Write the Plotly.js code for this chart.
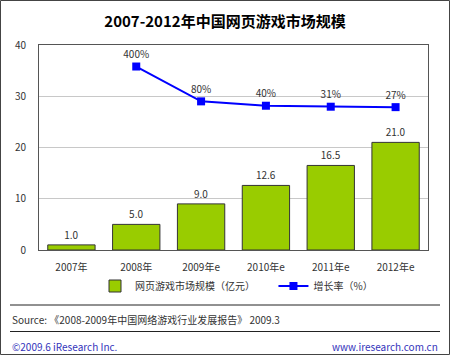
<!DOCTYPE html>
<html><head><meta charset="utf-8">
<script src="https://cdn.plot.ly/plotly-3.0.1.min.js"></script>
<style>html,body{margin:0;padding:0;background:#fff}#c{width:450px;height:355px}</style>
</head><body><div id="c"></div>
<script>
var categories = ['2007年','2008年','2009年e','2010年e','2011年e','2012年e'];
var marketSize = [1.0, 5.0, 9.0, 12.6, 16.5, 21.0];
var growthRate = [null, 400, 80, 40, 31, 27];
var growthLabels = ['', '400%', '80%', '40%', '31%', '27%'];
var yTicks = [0, 10, 20, 30, 40];

var W = 450, H = 355, ML = 39, MR = 22, MT = 45, MB = 105;
var PW = W - ML - MR, PH = H - MT - MB;
function px(x){ return (x - ML) / PW; }
function py(y){ return (H - MB - y) / PH; }

var FONT = 'Noto Sans CJK SC, DejaVu Sans, sans-serif';
var PAD = '\u00a0\u00a0\u00a0\u00a0\u00a0\u00a0';

var traces = [
  {type:'bar', x:categories, y:marketSize, name:'网页游戏市场规模（亿元）' + PAD,
   marker:{color:'#99cc00', line:{color:'#333333', width:1}},
   text:marketSize.map(function(v){return v.toFixed(1);}), textposition:'outside',
   textfont:{size:10, color:'#333'}, cliponaxis:false, hoverinfo:'skip'},
  {type:'scatter', mode:'lines+markers+text', x:categories, y:growthRate, yaxis:'y2',
   name:'增长率（%）', line:{color:'#0000ff', width:2},
   marker:{symbol:'square', size:8, color:'#0000ff'},
   text:growthLabels, textposition:'top center', textfont:{size:10, color:'#333'},
   cliponaxis:false, hoverinfo:'skip'}
];

var layout = {
  width:W, height:H, margin:{l:ML, r:MR, t:MT, b:MB},
  paper_bgcolor:'#fff', plot_bgcolor:'#fff',
  font:{family:FONT, size:10, color:'#333'},
  title:{text:'<b>2007-2012年中国网页游戏市场规模</b>', font:{size:15, color:'#000', family:FONT},
         x:0.5, xanchor:'center', y:1-22/H, yanchor:'middle'},
  bargap:0.27, showlegend:true,
  legend:{orientation:'h', x:px(95), xanchor:'left', y:py(286), yanchor:'middle',
          font:{size:10, color:'#333'}, bgcolor:'rgba(0,0,0,0)'},
  xaxis:{type:'category', showline:true, mirror:true, linecolor:'#555', linewidth:1,
         showgrid:false, ticks:'', ticklabelstandoff:8, tickfont:{size:10, color:'#333'}, fixedrange:true},
  yaxis:{range:[0,40], tickvals:yTicks, showline:true, mirror:true, linecolor:'#555', linewidth:1,
         gridcolor:'#c8c8c8', gridwidth:1, zeroline:false, ticks:'', ticklabelstandoff:10,
         tickfont:{size:10, color:'#333'}, fixedrange:true},
  yaxis2:{overlaying:'y', side:'right', range:[-1284.7, 597.6], visible:false, fixedrange:true},
  shapes:[
    {type:'rect', xref:'paper', yref:'paper', x0:px(0.5), x1:px(449.5), y0:py(354.5), y1:py(0.5),
     line:{color:'#444', width:1}},
    {type:'line', xref:'paper', yref:'paper', x0:px(10), x1:px(440), y0:py(305), y1:py(305),
     line:{color:'#222', width:1}},
    {type:'line', xref:'paper', yref:'paper', x0:px(10), x1:px(440), y0:py(331.5), y1:py(331.5),
     line:{color:'#222', width:1}}
  ],
  annotations:[
    {xref:'paper', yref:'paper', x:px(10), y:py(319), xanchor:'left', yanchor:'middle', showarrow:false,
     text:'Source: 《2008-2009年中国网络游戏行业发展报告》 2009.3', font:{size:10, color:'#333'}},
    {xref:'paper', yref:'paper', x:px(10), y:py(346), xanchor:'left', yanchor:'middle', showarrow:false,
     text:'©2009.6 iResearch Inc.', font:{size:10, color:'#3333bb'}},
    {xref:'paper', yref:'paper', x:px(440), y:py(346), xanchor:'right', yanchor:'middle', showarrow:false,
     text:'www.iresearch.com.cn', font:{size:10, color:'#3333bb'}}
  ]
};
Plotly.newPlot('c', traces, layout, {displayModeBar:false, staticPlot:true});
</script></body></html>
